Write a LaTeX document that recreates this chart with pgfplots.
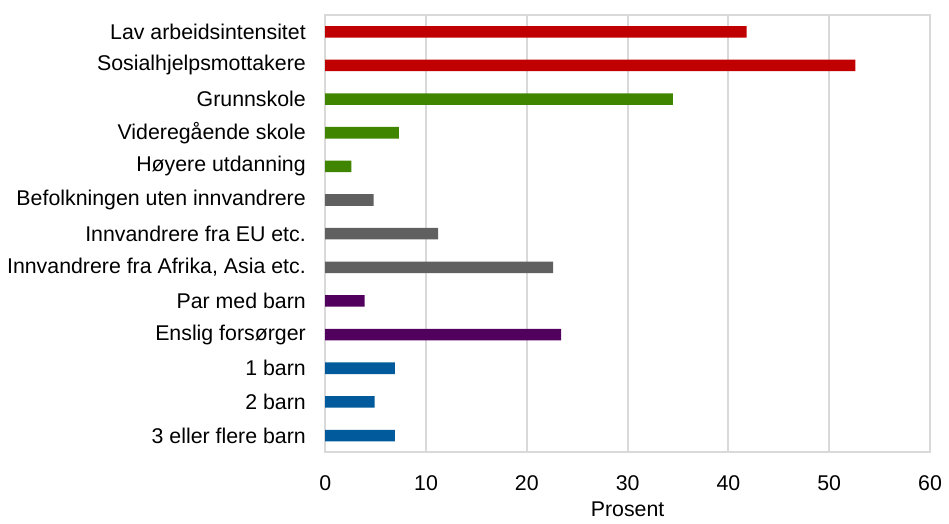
\documentclass[border=0pt]{standalone}
\usepackage{pgfplots}
\pgfplotsset{compat=1.18}
\usepackage{fontspec}
\setmainfont{Liberation Sans}
\definecolor{cred}{HTML}{C00000}
\definecolor{cgreen}{HTML}{408500}
\definecolor{cgray}{HTML}{606060}
\definecolor{cpurple}{HTML}{52005E}
\definecolor{cblue}{HTML}{005A9C}
\definecolor{gridc}{HTML}{D9D9D9}
\begin{document}
\begin{tikzpicture}
\fontsize{10.7}{12.5}\selectfont
  \begin{axis}[
    name=main,
    scale only axis,
    width=303.5pt, height=219.5pt,
    xbar, bar width=5.8pt, bar shift=0pt,
    xmin=0, xmax=60,
    xtick={0,10,...,60},
    ymin=-0.5, ymax=12.5,
    y dir=reverse,
    ytick={0,...,12},
    yticklabels={Lav arbeidsintensitet, Sosialhjelpsmottakere, Grunnskole,
      Videregående skole, Høyere utdanning, Befolkningen uten innvandrere,
      Innvandrere fra EU etc., {Innvandrere fra Afrika, Asia etc.},
      Par med barn, Enslig forsørger, 1 barn, 2 barn, 3 eller flere barn},
    major tick length=0pt,
    xmajorgrids=true,
    grid style={gridc, line width=1pt},
    axis line style={gridc, line width=1pt},
    /pgf/number format/assume math mode=true,
    ticklabel style={font=\fontsize{10.7}{12.5}\selectfont},
    yticklabel style={xshift=-6pt},
    xticklabel style={yshift=-8pt},
    xlabel={Prosent},
    xlabel style={font=\fontsize{10.7}{12.5}\selectfont, yshift=2pt},
    ]
    \addplot[fill=cred, draw=none] coordinates {(41.8,0) (52.6,1)};
    \addplot[fill=cgreen, draw=none] coordinates {(34.5,2) (7.3,3) (2.6,4)};
    \addplot[fill=cgray, draw=none] coordinates {(4.8,5) (11.2,6) (22.6,7)};
    \addplot[fill=cpurple, draw=none] coordinates {(3.9,8) (23.4,9)};
    \addplot[fill=cblue, draw=none] coordinates {(6.9,10) (4.9,11) (6.9,12)};
  \end{axis}
  \path (main.north east) ++(0,7.5pt);
\end{tikzpicture}
\end{document}
